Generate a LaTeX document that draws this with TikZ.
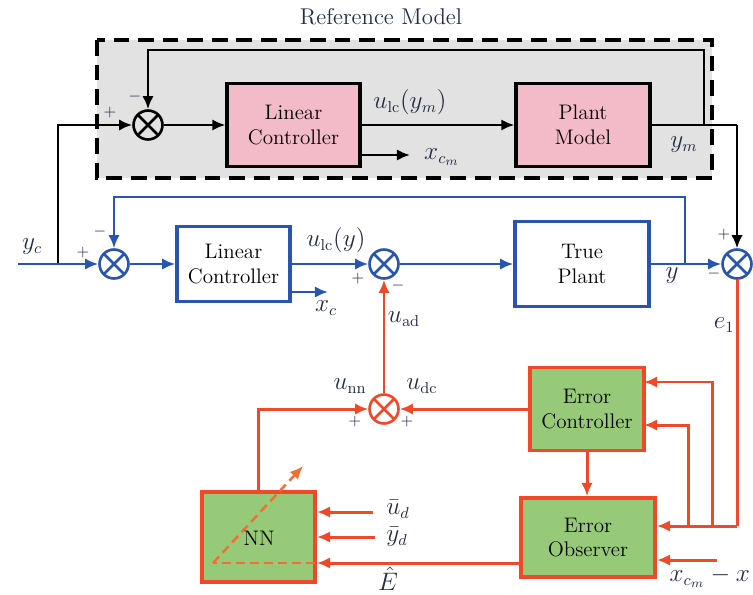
\documentclass[tikz,border=0pt]{standalone}
\usepackage{amsmath,amssymb}
\usepackage{tikz}
\usepackage{xcolor}
\usetikzlibrary{arrows.meta}

\definecolor{pinkfill}{RGB}{243,186,200}
\definecolor{greenfill}{RGB}{150,201,120}
\definecolor{redline}{RGB}{240,72,40}
\definecolor{blueline}{RGB}{40,85,175}
\definecolor{grayfill}{RGB}{226,226,226}
\definecolor{labcol}{RGB}{35,45,70}
\definecolor{nndash}{RGB}{242,110,50}

\tikzset{
  tip/.style={-{Latex[length=7.5pt,width=6.5pt]}},
  sumnode/.style={circle,draw,minimum size=16.5pt,inner sep=0pt,
    path picture={\draw (path picture bounding box.north west)--(path picture bounding box.south east)
      (path picture bounding box.south west)--(path picture bounding box.north east);}},
  blkbox/.style={draw=black,line width=1.8pt,fill=pinkfill,align=center,font=\large},
  bluebox/.style={draw=blueline,line width=2pt,fill=white,align=center,font=\large},
  redbox/.style={draw=redline,line width=2.2pt,fill=greenfill,align=center,font=\large},
  blk/.style={black,line width=1.6pt},
  blu/.style={blueline,line width=1.5pt},
  rd/.style={redline,line width=1.7pt},
  lab/.style={text=labcol,font=\fontsize{13.5}{16}\selectfont},
  sgn/.style={text=labcol,font=\small}
}

\begin{document}
\begin{tikzpicture}[x=0.57pt,y=-0.57pt]
\useasboundingbox (0,0) rectangle (753,594);

% reference model frame
\fill[grayfill] (97,40) rectangle (712,178);
\draw[black,line width=1.8pt,dash pattern=on 9pt off 5pt] (97,40) rectangle (712,178);
\node[font=\fontsize{13}{15}\selectfont,text=labcol] (title) at (381,17) {Reference Model};

% blocks
\node[blkbox,minimum width=75.8pt,minimum height=47.3pt] (rlc) at (293.5,125) {Linear\\Controller};
\node[blkbox,minimum width=76.4pt,minimum height=47.3pt] (pm) at (583,125) {Plant\\Model};
\node[bluebox,minimum width=64.4pt,minimum height=42.8pt] (lc) at (233.5,264) {Linear\\Controller};
\node[bluebox,minimum width=76.4pt,minimum height=48.5pt] (tp) at (582,264) {True\\Plant};
\node[redbox,minimum width=65pt,minimum height=47.3pt] (ec) at (587,409) {Error\\Controller};
\node[redbox,minimum width=76.4pt,minimum height=45pt] (eo) at (588,537.5) {Error\\Observer};
\node[redbox,minimum width=64.4pt,minimum height=51.3pt] (nn) at (258.5,537) {};

% summing junctions
\node[sumnode,black,line width=1.5pt] (s1) at (148,125) {};
\node[sumnode,blueline,line width=1.5pt] (s2) at (114,264) {};
\node[sumnode,blueline,line width=1.5pt] (s3) at (384,264) {};
\node[sumnode,blueline,line width=1.5pt] (s4) at (737,264) {};
\node[sumnode,redline,line width=1.5pt] (s5) at (384,409) {};

% helper points
\coordinate (yin) at (18,264);
\coordinate (yj) at (58,264);
\coordinate (xcm) at (410,155);
\coordinate (ymc) at (737,125);
\coordinate (fbm) at (704,125);
\coordinate (xce) at (328,292);
\coordinate (fby) at (685,264);
\coordinate (e1c) at (737,526);
\coordinate (br1) at (712,526);
\coordinate (br2) at (688,526);
\coordinate (ecin1) at (644,382);
\coordinate (ecin2) at (644,425);
\coordinate (eoin) at (717,560);
\coordinate (ehat) at (521,563);
\coordinate (ubar) at (373,512);
\coordinate (ybar) at (375,537);

% reference model loop
\draw[blk,tip] (yj) |- (s1.west);
\draw[blk,tip] (s1.east) -- (rlc.west);
\draw[blk,tip] (rlc.east) -- (pm.west);
\draw[blk,tip] (rlc.east |- xcm) -- (xcm);
\draw[blk,line width=1.2pt] (pm.east) -- (ymc);
\draw[blk,line width=1.2pt,tip] (ymc) -- (s4.north);
\draw[blk,tip] (fbm) -- (704,50) -| (s1.north);

% true plant loop
\draw[blu,tip] (yin) -- (s2.west);
\draw[blu,tip] (s2.east) -- (lc.west);
\draw[blu,tip] (lc.east) -- (s3.west);
\draw[blu,tip] (lc.east |- xce) -- (xce);
\draw[blu,tip] (s3.east) -- (tp.west);
\draw[blu,tip] (tp.east) -- (s4.west);
\draw[blu,tip] (fby) -- (685,197) -| (s2.north);

% adaptive part
\draw[rd] (s4.south) -- (e1c);
\draw[rd,tip] (e1c) -- (eo.east |- e1c);
\draw[rd,tip] (br1) |- (ecin1);
\draw[rd,tip] (br2) |- (ecin2);
\draw[rd,tip] (ec.south) -- (ec.south |- eo.north);
\draw[rd,tip] (ec.west) -- (s5.east);
\draw[rd,tip] (eoin) -- (eo.east |- eoin);
\draw[rd,tip] (ehat) -- (nn.east |- ehat);
\draw[rd,tip] (ubar) -- (nn.east |- ubar);
\draw[rd,tip] (ybar) -- (nn.east |- ybar);
\draw[rd,tip] (nn.north) |- (s5.west);
\draw[rd,tip] (s5.north) -- (s3.south);

% adaptation symbol in NN
\draw[nndash,line width=1.4pt,dash pattern=on 5pt off 3pt] (315,563) -- (213,563);
\draw[nndash,line width=1.4pt,dash pattern=on 5pt off 3pt,tip] (213,563) -- (303,466);
\node[font=\large] (nnlab) at (259,538) {NN};

% signal labels
\node[lab] (lulcm) at (410,102) {$u_{\mathrm{lc}}(y_m)$};
\node[lab,anchor=west] (lxcm) at (418,157) {$x_{c_m}$};
\node[lab] (lym) at (684,145) {$y_m$};
\node[lab] (lyc) at (32,247) {$y_c$};
\node[lab] (lulc) at (336,240) {$u_{\mathrm{lc}}(y)$};
\node[lab] (lxc) at (326,308) {$x_c$};
\node[lab] (ly) at (672,276) {$y$};
\node[lab] (le1) at (724,325) {$e_1$};
\node[lab] (luad) at (404,319) {$u_{\mathrm{ad}}$};
\node[lab] (lunn) at (350,386) {$u_{\mathrm{nn}}$};
\node[lab] (ludc) at (422,386) {$u_{\mathrm{dc}}$};
\node[lab] (lud) at (398,509) {$\bar{u}_d$};
\node[lab] (lyd) at (397,537) {$\bar{y}_d$};
\node[lab,inner sep=1pt] (leh) at (388,579) {$\hat{E}$};
\node[lab,anchor=east,inner sep=1pt] (lxx) at (752,577) {$x_{c_m}-x$};

% signs
\node[sgn] at (110,113) {$+$};
\node[sgn] at (135,97) {$-$};
\node[sgn] at (83,253) {$+$};
\node[sgn] at (100,232) {$-$};
\node[sgn] at (358,279) {$+$};
\node[sgn] at (398,286) {$-$};
\node[sgn] at (724,235) {$+$};
\node[sgn] at (714,274) {$-$};
\node[sgn] at (355,422) {$+$};
\node[sgn] at (407,422) {$+$};
\end{tikzpicture}
\end{document}
